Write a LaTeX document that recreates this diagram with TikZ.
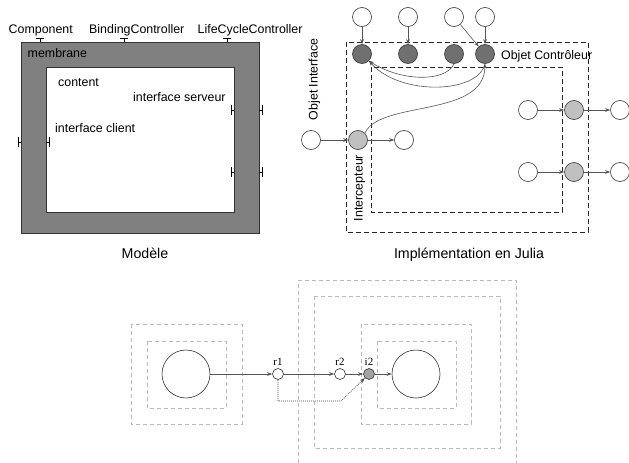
\documentclass[tikz,border=0pt]{standalone}
\usepackage{fontspec}
\setmainfont{Liberation Sans}
\newfontfamily\labelserif{Liberation Serif}
\usetikzlibrary{arrows.meta, positioning}
\definecolor{MembraneGray}{RGB}{128,128,128}
\definecolor{CtrlGray}{RGB}{112,112,112}
\definecolor{IcptGray}{RGB}{192,192,192}
\definecolor{WireGray}{RGB}{85,85,85}
\definecolor{HullGray}{RGB}{185,185,185}

\begin{document}
\begin{tikzpicture}[x=1pt, y=-1pt,
  lbl/.style={font=\fontsize{12.4}{14}\selectfont, inner sep=0pt},
  capt/.style={font=\fontsize{14.2}{16}\selectfont, inner sep=0pt, anchor=base},
  port/.style={circle, draw=black!80, line width=0.6pt, minimum size=19pt, inner sep=0pt},
  wport/.style={port, fill=white},
  cport/.style={port, fill=CtrlGray},
  iport/.style={port, fill=IcptGray},
  link/.style={draw=WireGray, line width=0.6pt, -{Stealth[length=5pt, width=3.6pt]}},
  ctlbox/.style={draw=black!85, line width=0.6pt, dash pattern=on 5pt off 3pt},
  hull/.style={draw=HullGray, line width=0.6pt, dash pattern=on 4pt off 3pt},
  tinyport/.style={circle, draw=black!80, line width=0.6pt, minimum size=11pt, inner sep=0pt},
  bigcomp/.style={circle, draw=black!80, line width=0.6pt, minimum size=48pt, inner sep=0pt},
  rlbl/.style={font=\labelserif\fontsize{11}{13}\selectfont, inner sep=0pt, anchor=base}]
  \useasboundingbox (0,0) rectangle (629,463);

  %% --- component model ---
  % membrane and content
  \filldraw[fill=MembraneGray, draw=black!80, line width=0.6pt] (21,42) rectangle (259,233);
  \filldraw[fill=white, draw=black!80, line width=0.6pt] (46,67) rectangle (234,212);

  % control interfaces on top
  \foreach \x in {40,124,227}{
    \draw[line width=0.7pt] (\x,42) -- (\x,38.5);
    \draw[line width=0.7pt] (\x-4,38.5) -- (\x+4,38.5);
  }
  \node[lbl, anchor=base west] (cmp) at (8.5,33) {Component};
  \node[lbl, anchor=base west] (bnd) at (89,33) {BindingController};
  \node[lbl, anchor=base west] (lcc) at (197.5,33) {LifeCycleController};

  % client side
  \draw[line width=0.7pt] (21,142) -- (18,142) (18,137) -- (18,147);
  \draw[line width=0.7pt] (46,142) -- (49,142) (49,137) -- (49,147);
  % server side
  \foreach \y in {110,172}{
    \draw[line width=0.7pt] (234,\y) -- (231.5,\y) (231.5,\y-5) -- (231.5,\y+5);
    \draw[line width=0.7pt] (259,\y) -- (262,\y) (262,\y-5) -- (262,\y+5);
  }

  \node[lbl, anchor=base west] (mbr) at (27.5,57.5) {membrane};
  \node[lbl, anchor=base west] (cnt) at (58,86) {content};
  \node[lbl, anchor=base west] (srv) at (133,101) {interface serveur};
  \node[lbl, anchor=base west] (cli) at (55,132) {interface client};
  \node[capt] (modele) at (145,258) {Modèle};

  %% --- Julia implementation ---
  \draw[ctlbox] (346,42) rectangle (588,232);
  \draw[ctlbox] (371,67) rectangle (562,212);

  % controller objects and their interfaces
  \foreach \i/\x in {1/362,2/408,3/454,4/485}{
    \node[wport] (w\i) at (\x,17) {};
    \node[cport] (c\i) at (\x,54) {};
  }
  \draw[link] (w1) -- (c1);
  \draw[link] (w2) -- (c2);
  \draw[link] (w4) -- (c4);
  \draw[link] (w3) -- (c4);
  \draw[link] (c3.south) .. controls (446,82) and (402,82) .. (c1.south east);
  \draw[link] (c4.south) .. controls (478,94) and (400,96) .. (c1.south east);

  % interceptors
  \node[wport] (ia) at (311,140) {};
  \node[iport] (ic) at (358,140) {};
  \node[wport] (ib) at (404,140) {};
  \draw[link] (ia) -- (ic);
  \draw[link] (ic) -- (ib);
  \draw[link] (ic.north east) .. controls (380,100) and (484,118) .. (c4.south);

  \foreach \r/\y in {a/110,b/172}{
    \node[wport] (\r1) at (528,\y) {};
    \node[iport] (\r2) at (574,\y) {};
    \node[wport] (\r3) at (620,\y) {};
    \draw[link] (\r1) -- (\r2);
    \draw[link] (\r2) -- (\r3);
  }

  \node[lbl, anchor=base west] (octl) at (501,59.5) {Objet Contrôleur};
  \node[lbl, rotate=90, anchor=base] (oitf) at (317.5,79.5) {Objet Interface};
  \node[lbl, rotate=90, anchor=base] (icpt) at (362.5,188) {Intercepteur};
  \node[capt] (julia) at (469,258) {Implémentation en Julia};

  %% --- binding through membranes ---
  \draw[hull] (131,324) rectangle (242,424);
  \draw[hull] (147,341) rectangle (226,408);
  \draw[hull] (298.5,463) -- (298.5,280) -- (516,280) -- (516,463);
  \draw[hull] (314,296) rectangle (500,448);
  \draw[hull] (361,324) rectangle (471,424);
  \draw[hull] (377,341) rectangle (456,408);

  \node[bigcomp] (src) at (186,374) {};
  \node[tinyport, fill=white] (r1) at (278,374) {};
  \node[tinyport, fill=white] (r2) at (340,374) {};
  \node[tinyport, fill=IcptGray!85!black] (i2) at (369,374) {};
  \node[bigcomp] (dst) at (416,374) {};
  \coordinate (k1) at (341,401);

  \draw[link] (src) -- (r1);
  \draw[link] (r1) -- (r2);
  \draw[link] (r2) -- (i2);
  \draw[link] (i2) -- (dst);
  \draw[link, draw=black!75, dash pattern=on 1pt off 1pt] (r1) |- (k1) -- (i2);

  \node[rlbl] (lr1) at (278,365) {r1};
  \node[rlbl] (lr2) at (340,365) {r2};
  \node[rlbl] (li2) at (369,365) {i2};
\end{tikzpicture}
\end{document}
